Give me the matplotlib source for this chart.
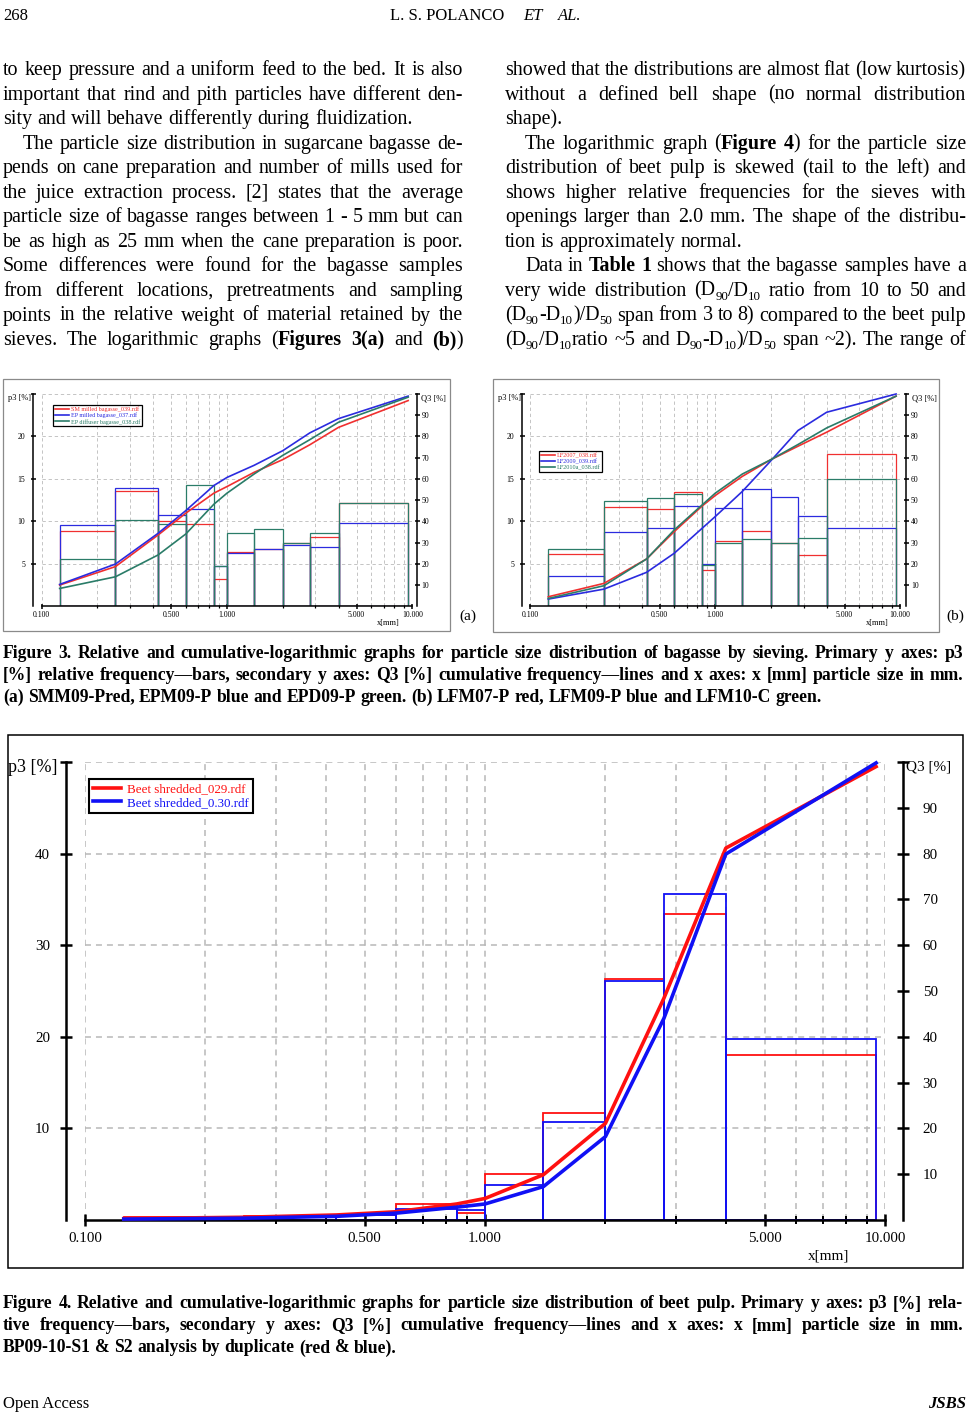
import re
import matplotlib
matplotlib.use("Agg")
import matplotlib.pyplot as plt
import numpy as np
from matplotlib.font_manager import FontProperties
from matplotlib.patches import Rectangle
from matplotlib.ticker import NullFormatter

W, H, DPI = 973, 1414, 100
PT = 72 / DPI          # points per pixel
SERIF = "Liberation Serif"
plt.rcParams["font.family"] = [SERIF, "DejaVu Serif"]
plt.rcParams["lines.scale_dashes"] = False

# ---------------- data ----------------
sieve_mm = [0.125, 0.25, 0.425, 0.6, 0.85, 1.0, 1.4, 2.0, 2.8, 4.0, 9.5]
x_major = [0.1, 0.5, 1.0, 5.0, 10.0]
x_major_labels = ["0.100", "0.500", "1.000", "5.000", "10.000"]
x_minor = [0.2, 0.3, 0.4, 0.6, 0.7, 0.8, 0.9, 2, 3, 4, 6, 7, 8, 9]

f3a_labels = ["SM milled bagasse_039.rdf", "EP milled bagasse_037.rdf",
              "EP diffuser bagasse_038.rdf"]
f3a_p3_red = [8.9, 13.6, 10.1, 9.7, 3.2, 6.35, 6.75, 7.4, 8.2, 12.2]
f3a_p3_blue = [9.6, 13.9, 10.8, 11.5, 4.7, 6.3, 6.8, 7.25, 6.95, 9.85]
f3a_p3_green = [5.6, 10.2, 9.7, 14.3, 4.8, 8.6, 9.15, 7.5, 8.6, 12.2]
f3a_q3_red = [10.0, 18.7, 33.6, 43.9, 53.3, 56.4, 63.1, 69.1, 76.1, 84.3, 96.9]
f3a_q3_blue = [10.3, 19.9, 34.4, 45.1, 56.9, 60.7, 66.4, 73.3, 81.7, 88.4, 99.0]
f3a_q3_green = [8.4, 13.9, 24.2, 34.1, 48.1, 53.3, 62.3, 71.1, 78.5, 86.7, 98.5]

f3b_labels = ["LF2007_038.rdf", "LF2009_039.rdf", "LF2010a_038.rdf"]
f3b_p3_red = [6.1, 11.7, 11.5, 13.45, 4.3, 7.7, 8.9, 7.4, 6.0, 17.9]
f3b_p3_blue = [3.6, 8.7, 9.2, 11.85, 5.0, 11.6, 13.8, 12.9, 10.6, 9.2]
f3b_p3_green = [6.7, 12.4, 12.8, 13.2, 4.85, 7.5, 7.9, 7.5, 8.1, 15.0]
f3b_q3_red = [4.5, 10.8, 22.3, 35.2, 47.3, 52.2, 61.2, 69.1, 75.4, 82.0, 99.0]
f3b_q3_blue = [3.4, 8.1, 16.0, 25.0, 36.8, 42.3, 54.1, 68.6, 82.8, 91.4, 100.0]
f3b_q3_green = [3.7, 9.7, 22.3, 36.0, 47.8, 53.3, 62.3, 69.1, 76.2, 84.0, 99.0]

f4_labels = ["Beet shredded_029.rdf", "Beet shredded_0.30.rdf"]
f4_p3_red = [0.3, 0.4, 0.6, 1.8, 0.8, 5.0, 11.7, 26.3, 33.4, 18.0]
f4_p3_blue = [0.2, 0.3, 0.5, 1.2, 1.1, 3.8, 10.7, 26.1, 35.6, 19.8]
f4_q3_red = [0.3, 0.6, 1.1, 1.8, 3.5, 4.7, 9.9, 21.1, 48.4, 81.2, 99.0]
f4_q3_blue = [0.2, 0.4, 0.8, 1.5, 2.8, 3.5, 7.3, 18.2, 44.0, 79.9, 99.8]

# text rows: (text, indented, justified)
left_rows = [
    ("to keep pressure and a uniform feed to the bed. It is also", False, True),
    ("important that rind and pith particles have different den-", False, True),
    ("sity and will behave differently during fluidization.", False, False),
    ("The particle size distribution in sugarcane bagasse de-", True, True),
    ("pends on cane preparation and number of mills used for", False, True),
    ("the juice extraction process. [2] states that the average", False, True),
    ("particle size of bagasse ranges between 1 - 5 mm but can", False, True),
    ("be as high as 25 mm when the cane preparation is poor.", False, True),
    ("Some differences were found for the bagasse samples", False, True),
    ("from different locations, pretreatments and sampling", False, True),
    ("points in the relative weight of material retained by the", False, True),
    ("sieves. The logarithmic graphs (**Figures 3(a)** and **(b)**)", False, True),
]
right_rows = [
    ("showed that the distributions are almost flat (low kurtosis)", False, True),
    ("without a defined bell shape (no normal distribution", False, True),
    ("shape).", False, False),
    ("The logarithmic graph (**Figure 4**) for the particle size", True, True),
    ("distribution of beet pulp is skewed (tail to the left) and", False, True),
    ("shows higher relative frequencies for the sieves with", False, True),
    ("openings larger than 2.0 mm. The shape of the distribu-", False, True),
    ("tion is approximately normal.", False, False),
    ("Data in **Table 1** shows that the bagasse samples have a", True, True),
    ("very wide distribution (D_{90}/D_{10} ratio from 10 to 50 and", False, True),
    ("(D_{90}-D_{10})/D_{50} span from 3 to 8) compared to the beet pulp", False, True),
    ("(D_{90}/D_{10}ratio ~5 and D_{90}-D_{10})/D_{50} span ~2). The range of", False, True),
]
cap3_rows = [
    ("Figure 3. Relative and cumulative-logarithmic graphs for particle size distribution "
     "of bagasse by sieving. Primary y axes: p3", False, True),
    ("[%] relative frequency\u2014bars, secondary y axes: Q3 [%] cumulative frequency\u2014lines "
     "and x axes: x [mm] particle size in mm.", False, True),
    ("(a) SMM09-Pred, EPM09-P blue and EPD09-P green. (b) LFM07-P red, LFM09-P blue "
     "and LFM10-C green.", False, False),
]
cap4_rows = [
    ("Figure 4. Relative and cumulative-logarithmic graphs for particle size distribution "
     "of beet pulp. Primary y axes: p3 [%] rela-", False, True),
    ("tive frequency\u2014bars, secondary y axes: Q3 [%] cumulative frequency\u2014lines "
     "and x axes: x [mm] particle size in mm.", False, True),
    ("BP09-10-S1 & S2 analysis by duplicate (red & blue).", False, False),
]

fig = plt.figure(figsize=(W / DPI, H / DPI), dpi=DPI)
fig.patch.set_facecolor("white")
renderer = fig.canvas.get_renderer()


def fx(x):
    return x / W


def fy(y):
    return 1 - y / H


def px_axes(x0, y0, x1, y1):
    return fig.add_axes([fx(x0), fy(y1), (x1 - x0) / W, (y1 - y0) / H])


def frame(x0, y0, x1, y1, color, lw):
    fig.add_artist(Rectangle((fx(x0), fy(y1)), (x1 - x0) / W, (y1 - y0) / H,
                             transform=fig.transFigure, fill=False,
                             edgecolor=color, linewidth=lw))


def text_w(s, prop):
    return renderer.get_text_width_height_descent(s, prop, ismath=False)[0]


def parse(line):
    segs = []
    for m in re.finditer(r"\*\*(.+?)\*\*|_\{(.+?)\}|([^*_]+)", line):
        if m.group(1) is not None:
            segs.append((m.group(1), "bold"))
        elif m.group(2) is not None:
            segs.append((m.group(2), "sub"))
        else:
            segs.append((m.group(3), "normal"))
    words, cur = [], []
    for txt, st in segs:
        for i, part in enumerate(txt.split(" ")):
            if i > 0 and cur:
                words.append(cur)
                cur = []
            if part:
                cur.append((part, st))
    if cur:
        words.append(cur)
    return words


def prop_for(st, size, weight):
    if st == "bold":
        return FontProperties(family=SERIF, weight="bold", size=size)
    if st == "sub":
        return FontProperties(family=SERIF, weight=weight, size=size * 0.65)
    return FontProperties(family=SERIF, weight=weight, size=size)


def text_block(rows, x0, x1, y_base, step, size, weight="normal", indent=20):
    space = (text_w("a a", prop_for("normal", size, weight))
             - text_w("aa", prop_for("normal", size, weight)))
    for i, (line, ind, justify) in enumerate(rows):
        words = parse(line)
        widths = [sum(text_w(t, prop_for(st, size, weight)) for t, st in w) for w in words]
        x = x0 + (indent if ind else 0)
        gap = space
        if justify and len(words) > 1:
            gap = (x1 - x - sum(widths)) / (len(words) - 1)
        yb = y_base + i * step
        for w, ww in zip(words, widths):
            xx = x
            for t, st in w:
                p = prop_for(st, size, weight)
                dy = size / PT * 0.2 if st == "sub" else 0
                fig.text(fx(xx), fy(yb + dy), t, fontproperties=p, va="baseline", ha="left")
                xx += text_w(t, p)
            x += ww + gap


def fit_size(rows, width, weight):
    base = 10
    longest = 0
    for line, ind, justify in rows:
        words = parse(line)
        p = prop_for("normal", base, weight)
        sp = text_w("a a", p) - text_w("aa", p)
        w = sum(text_w(t, prop_for(st, base, weight)) for wd in words for t, st in wd)
        longest = max(longest, w + sp * (len(words) - 1))
    return base * width / longest * 0.985


def psd_chart(x0, y0, x1, y1, gap_l, gap_r, p3_top, p3_ticks, p3_sets, q3_sets,
              colors, labels, fs, lw_bar, lw_line, lw_axis, tick, pads, grid, leg):
    ax = px_axes(x0, y0, x1, y1)
    ax.set_xscale("log")
    ax.set_xlim(0.1, 10)
    ax.set_ylim(0, p3_top)
    ax.patch.set_alpha(0)
    edges = np.array(sieve_mm)
    for vals, c in zip(p3_sets, colors):
        ax.bar(edges[:-1], vals, width=np.diff(edges), align="edge", fill=False,
               edgecolor=c, linewidth=lw_bar, zorder=2)
    ax.set_xticks(x_major, x_major_labels)
    ax.set_xticks(x_minor, minor=True)
    ax.xaxis.set_minor_formatter(NullFormatter())
    ax.set_yticks(p3_ticks, [str(t) for t in p3_ticks[:-1]] + [""])
    gc, glw, gdash = grid
    ax.grid(True, which="both", axis="x", color=gc, lw=glw, ls=(0, gdash))
    ax.grid(True, which="major", axis="y", color=gc, lw=glw, ls=(0, gdash))
    ax.set_axisbelow(True)
    for side in ("top", "right"):
        ax.spines[side].set_visible(False)
    ax.spines["left"].set_position(("outward", gap_l * PT))
    ax.spines["left"].set_linewidth(lw_axis)
    ax.spines["bottom"].set_linewidth(lw_axis)
    ax.tick_params(axis="y", direction="inout", length=tick, width=lw_axis,
                   labelsize=fs, pad=pads[0])
    ax.tick_params(axis="x", which="major", direction="inout", length=tick,
                   width=lw_axis, labelsize=fs, pad=pads[2])
    ax.tick_params(axis="x", which="minor", direction="inout", length=tick * 0.6,
                   width=lw_axis * 0.8)

    ax2 = ax.twinx()
    ax2.set_ylim(0, 100)
    for side in ("top", "left", "bottom"):
        ax2.spines[side].set_visible(False)
    ax2.spines["right"].set_position(("outward", gap_r * PT))
    ax2.spines["right"].set_linewidth(lw_axis)
    q3_ticks = list(range(10, 101, 10))
    ax2.set_yticks(q3_ticks, [str(t) for t in q3_ticks[:-1]] + [""])
    ax2.tick_params(axis="y", direction="inout", length=tick, width=lw_axis,
                    labelsize=fs, pad=pads[1])
    lines = []
    for vals, c in zip(q3_sets, colors):
        ln, = ax2.plot(sieve_mm, vals, color=c, lw=lw_line, clip_on=False,
                       solid_joinstyle="round")
        lines.append(ln)

    lx, ly, lfs, hl, lsp, bpad, hpad, flw = leg
    lg = ax2.legend(lines, labels, loc="upper left", bbox_to_anchor=(fx(lx), fy(ly)),
                    bbox_transform=fig.transFigure, borderaxespad=0, fancybox=False,
                    edgecolor="black", framealpha=1, fontsize=lfs, handlelength=hl,
                    labelspacing=lsp, borderpad=bpad, handletextpad=hpad,
                    labelcolor="linecolor")
    lg.get_frame().set_linewidth(flw)
    return ax, ax2


# ---------------- header / body ----------------
hp = FontProperties(family=SERIF, size=12)
hpi = FontProperties(family=SERIF, size=12, style="italic")
fig.text(fx(3), fy(19.5), "268", fontproperties=hp, va="baseline", ha="left")
fig.text(fx(504), fy(19.5), "L. S. POLANCO", fontproperties=hp, va="baseline", ha="right")
fig.text(fx(523), fy(19.5), "ET", fontproperties=hpi, va="baseline", ha="left")
fig.text(fx(558), fy(19.5), "AL.", fontproperties=hpi, va="baseline", ha="left")

text_block(left_rows, 3, 463, 75, 24.55, 14.4)
text_block(right_rows, 505, 966, 75, 24.55, 14.4)

# ---------------- Figure 3 ----------------
c3 = ["#f03030", "#2b2bdf", "#2a7c68"]
grid3 = ("#c4c4c4", 0.7, (2.4, 2.0))
frame(3, 379, 450, 631, "#8a8a8a", 0.9)
frame(493, 379, 939, 632, "#8a8a8a", 0.9)

psd_chart(41.7, 394, 412.3, 606.3, 8.4, 4.4, 25, [5, 10, 15, 20, 25],
          [f3a_p3_red, f3a_p3_blue, f3a_p3_green],
          [f3a_q3_red, f3a_q3_blue, f3a_q3_green],
          c3, f3a_labels, 5.6, 0.9, 1.2, 1.1, 3.6, (4.2, 1.8, 1.8), grid3,
          (53.3, 404.7, 4.4, 2.2, 0.1, 0.3, 0.4, 0.9))
psd_chart(530.4, 394, 900.2, 606.3, 8.1, 5.7, 25, [5, 10, 15, 20, 25],
          [f3b_p3_red, f3b_p3_blue, f3b_p3_green],
          [f3b_q3_red, f3b_q3_blue, f3b_q3_green],
          c3, f3b_labels, 5.6, 0.9, 1.2, 1.1, 3.6, (4.2, 1.8, 1.8), grid3,
          (539.3, 451.3, 4.4, 2.2, 0.1, 0.3, 0.4, 0.9))

small = FontProperties(family=SERIF, size=6)
for x_p3, x_q3, x_mm, x_tag, tag in [(8, 421, 377, 459, "(a)"), (498, 912, 866, 946, "(b)")]:
    fig.text(fx(x_p3), fy(398), "p3 [%]", fontproperties=small, va="center", ha="left")
    fig.text(fx(x_q3), fy(398), "Q3 [%]", fontproperties=small, va="center", ha="left")
    fig.text(fx(x_mm), fy(623), "x[mm]", fontproperties=small, va="center", ha="left")
    fig.text(fx(x_tag), fy(616), tag, fontproperties=FontProperties(family=SERIF, size=11),
             va="center", ha="left")

cap_size = fit_size(cap3_rows + cap4_rows, 960, "bold")
text_block(cap3_rows, 3, 963, 657.5, 22, cap_size, weight="bold")

# ---------------- Figure 4 ----------------
frame(8, 735, 963, 1268, "black", 1.1)
psd_chart(85, 762, 885, 1220, 19, 18, 50, [10, 20, 30, 40, 50],
          [f4_p3_red, f4_p3_blue], [f4_q3_red, f4_q3_blue],
          ["#ff1010", "#1010f5"], f4_labels, 10.8, 1.3, 2.6, 1.8, 8.6,
          (7.2, 9.9, 4.1), ("#b8b8b8", 1.1, (4.3, 3.6)),
          (89.3, 779.3, 9.4, 2.1, 0.12, 0.3, 0.5, 1.5))
fig.text(fx(8), fy(768), "p3 [%]", fontproperties=FontProperties(family=SERIF, size=13),
         va="center", ha="left")
fig.text(fx(906), fy(767), "Q3 [%]", fontproperties=FontProperties(family=SERIF, size=11),
         va="center", ha="left")
fig.text(fx(808), fy(1256), "x[mm]", fontproperties=FontProperties(family=SERIF, size=11),
         va="center", ha="left")

text_block(cap4_rows, 3, 963, 1308.5, 22, cap_size, weight="bold")

# ---------------- footer ----------------
fig.text(fx(3), fy(1408), "Open Access", fontproperties=hp, va="baseline", ha="left")
fig.text(fx(966), fy(1408), "JSBS",
         fontproperties=FontProperties(family=SERIF, size=12, style="italic", weight="bold"),
         va="baseline", ha="right")

fig.savefig("out.png", dpi=DPI, facecolor="white")
